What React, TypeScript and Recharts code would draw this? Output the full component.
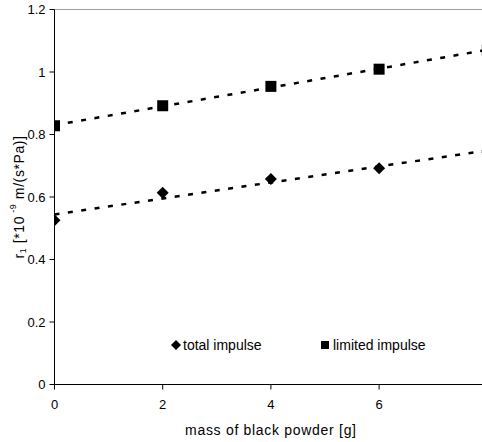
import { ComposedChart, Scatter, Line, XAxis, YAxis, ReferenceLine, Legend } from "recharts";

const MASS_G = [0, 2, 4, 6, 8];
const TOTAL_IMPULSE = [0.526, 0.614, 0.658, 0.692, 0.743];
const LIMITED_IMPULSE = [0.828, 0.892, 0.954, 1.009, 1.07];
// trendline end points
const TREND_X = [0, 8];
const TOTAL_TREND = [0.544, 0.749];
const LIMITED_TREND = [0.83, 1.071];
const X_TICKS = [0, 2, 4, 6, 8];
const Y_TICKS = [0, 0.2, 0.4, 0.6, 0.8, 1, 1.2];

const FONT = '"Liberation Sans", Arial, sans-serif';

const totalData = MASS_G.map((x, i) => ({ x, y: TOTAL_IMPULSE[i] }));
const limitedData = MASS_G.map((x, i) => ({ x, y: LIMITED_IMPULSE[i] }));
const totalTrend = TREND_X.map((x, i) => ({ x, y: TOTAL_TREND[i] }));
const limitedTrend = TREND_X.map((x, i) => ({ x, y: LIMITED_TREND[i] }));

function Diamond({ cx, cy }: any) {
  const r = 6;
  return (
    <polygon
      points={`${cx},${cy - r} ${cx + r},${cy} ${cx},${cy + r} ${cx - r},${cy}`}
      fill="#000"
    />
  );
}

function Square({ cx, cy }: any) {
  const r = 5.5;
  return <rect x={cx - r} y={cy - r} width={r * 2} height={r * 2} fill="#000" />;
}

function YLabel({ viewBox }: any) {
  const x = viewBox.x + 19;
  const y = viewBox.y + viewBox.height / 2;
  return (
    <text
      x={x}
      y={y}
      transform={`rotate(-90 ${x} ${y})`}
      textAnchor="middle"
      dominantBaseline="central"
      fontFamily={FONT}
      fontSize={14}
      fill="#000"
      letterSpacing={0.6}
    >
      r<tspan fontSize={9} dy={4}>1</tspan>
      <tspan dy={-4}> [*10</tspan>
      <tspan fontSize={9} dy={-6}> -9</tspan>
      <tspan dy={6}> m/(s*Pa)]</tspan>
    </text>
  );
}

function LegendBox() {
  return (
    <div style={{ position: "relative", height: 20, fontFamily: FONT, fontSize: 14, color: "#000" }}>
      <div style={{ position: "absolute", left: 0, top: 0, display: "flex", alignItems: "center" }}>
        <svg width={12} height={12} style={{ marginRight: 1 }}>
          <polygon points="6,1 11,6 6,11 1,6" fill="#000" />
        </svg>
        <span>total impulse</span>
      </div>
      <div style={{ position: "absolute", left: 150, top: 0, display: "flex", alignItems: "center" }}>
        <svg width={11} height={12} style={{ marginRight: 2 }}>
          <rect x={1} y={2} width={8} height={8} fill="#000" />
        </svg>
        <span>limited impulse</span>
      </div>
    </div>
  );
}

export default function App() {
  return (
    <div
      style={{
        position: "absolute",
        left: 0,
        top: 0,
        width: 482,
        height: 442,
        overflow: "hidden",
        background: "#fff",
      }}
    >
      <ComposedChart
        width={500}
        height={442}
        margin={{ top: 9.5, right: 12.7, bottom: 0, left: 0 }}
      >
        <XAxis
          type="number"
          dataKey="x"
          domain={[0, 8]}
          ticks={X_TICKS}
          allowDataOverflow
          axisLine={{ stroke: "#000" }}
          tickLine={{ stroke: "#000" }}
          tickSize={5}
          tickMargin={10}
          height={57.5}
          tick={{ fill: "#000", fontSize: 13, fontFamily: FONT }}
          label={{
            value: "mass of black powder [g]",
            position: "insideBottom",
            offset: 7,
            fill: "#000",
            fontSize: 14,
            fontFamily: FONT,
            letterSpacing: 0.7,
          }}
        />
        <YAxis
          type="number"
          dataKey="y"
          domain={[0, 1.2]}
          ticks={Y_TICKS}
          allowDataOverflow
          width={54.5}
          axisLine={{ stroke: "#000" }}
          tickLine={{ stroke: "#000" }}
          tickSize={5}
          tickMargin={4}
          tick={{ fill: "#000", fontSize: 13, fontFamily: FONT }}
          label={{ content: <YLabel /> }}
        />
        <ReferenceLine y={1.2} stroke="#a0a0a0" ifOverflow="extendDomain" />
        <ReferenceLine x={8} stroke="#a0a0a0" />
        <Line
          data={totalTrend}
          dataKey="y"
          stroke="#000"
          strokeWidth={2.5}
          strokeDasharray="5 8.5"
          dot={false}
          activeDot={false}
          legendType="none"
          isAnimationActive={false}
        />
        <Line
          data={limitedTrend}
          dataKey="y"
          stroke="#000"
          strokeWidth={2.5}
          strokeDasharray="5 8.5"
          dot={false}
          activeDot={false}
          legendType="none"
          isAnimationActive={false}
        />
        <Scatter
          name="total impulse"
          data={totalData}
          fill="#000"
          shape={<Diamond />}
          isAnimationActive={false}
        />
        <Scatter
          name="limited impulse"
          data={limitedData}
          fill="#000"
          shape={<Square />}
          isAnimationActive={false}
        />
        <Legend
          layout="horizontal"
          verticalAlign="middle"
          align="center"
          wrapperStyle={{ top: 337, left: 170, width: 300 }}
          content={<LegendBox />}
        />
      </ComposedChart>
    </div>
  );
}
